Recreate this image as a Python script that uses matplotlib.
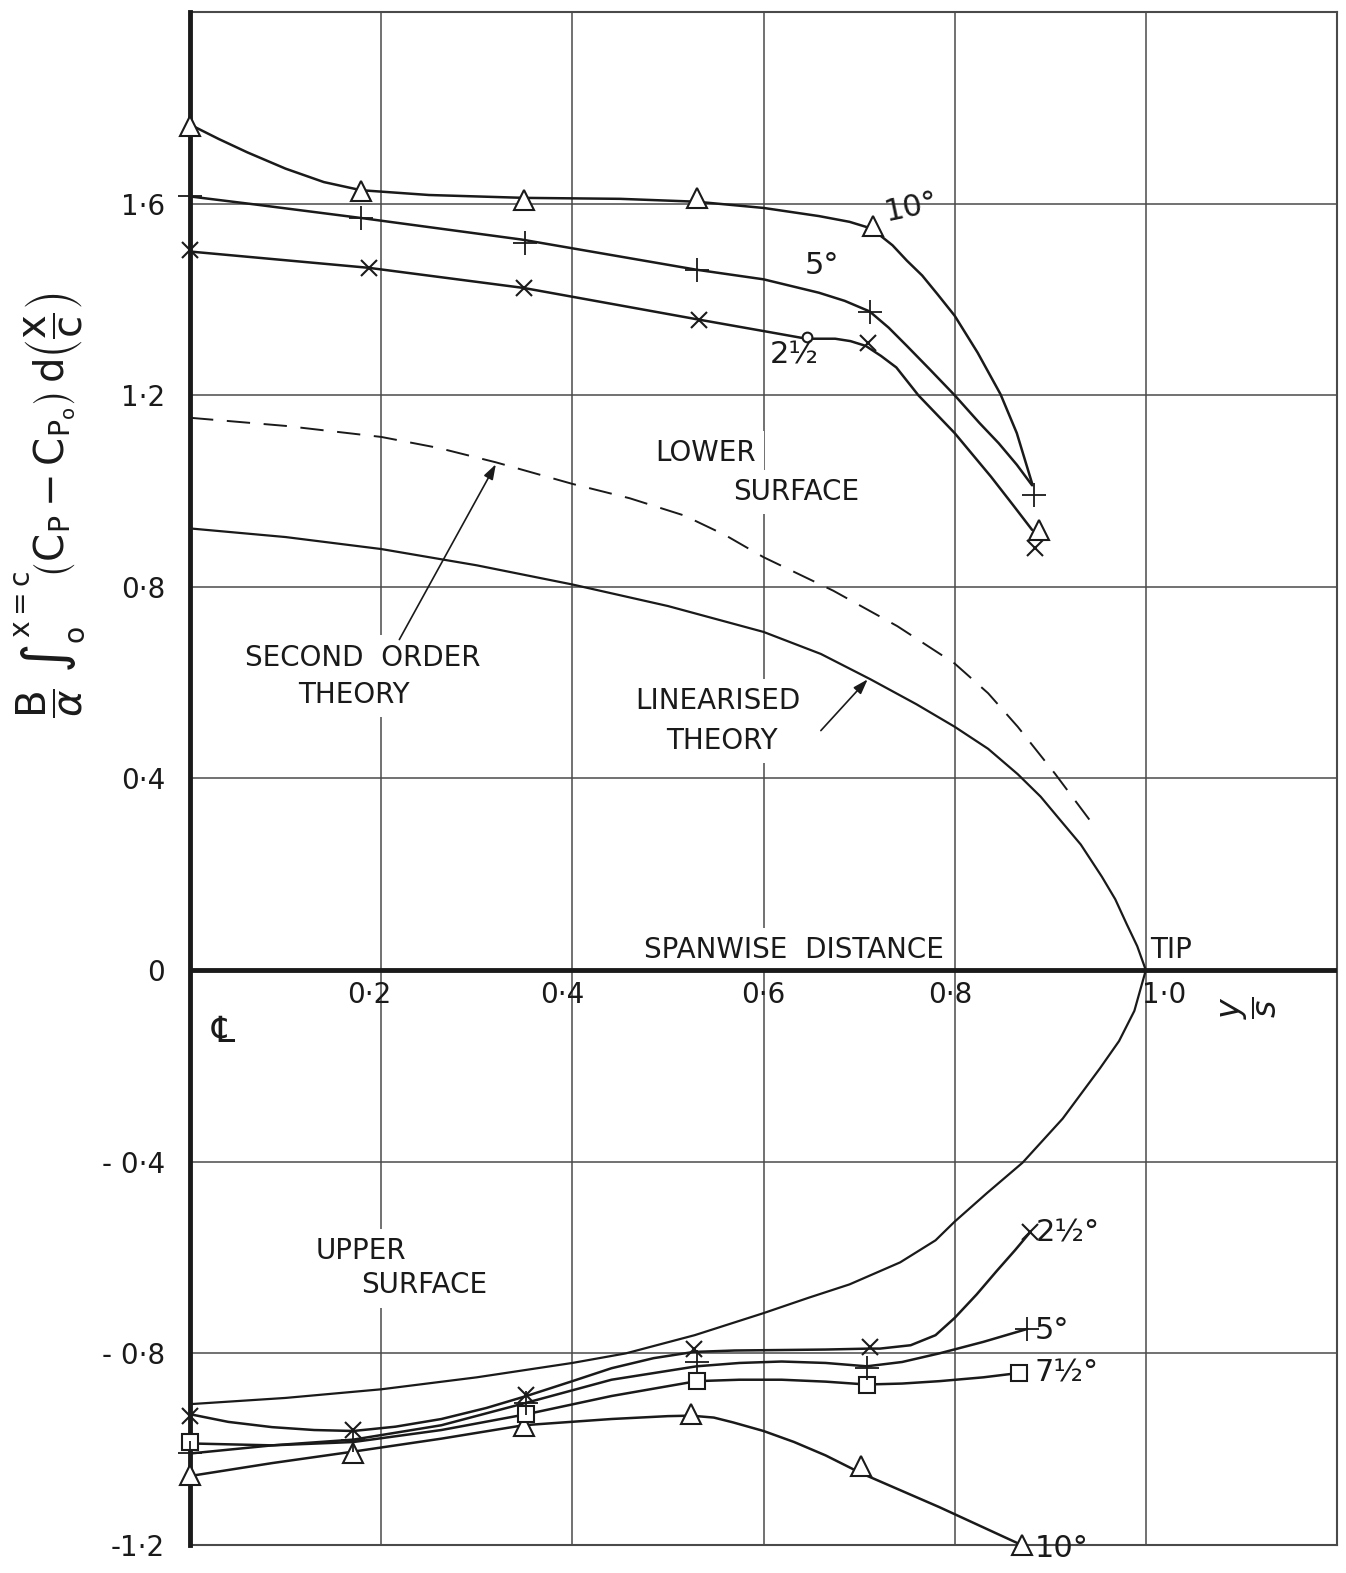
import matplotlib
matplotlib.use("Agg")
import matplotlib.pyplot as plt

plt.rcParams['font.family'] = ['DejaVu Sans', 'Noto Sans']
plt.rcParams['mathtext.fontset'] = 'dejavusans'

INK = '#1a1a1a'
GRID = '#4a4a4a'

# ---------------- data ----------------
# Lower surface, experimental (markers)
low10_x = [0.0, 0.179, 0.349, 0.530, 0.715, 0.888]
low10_y = [1.761, 1.626, 1.608, 1.612, 1.553, 0.919]
low5_x = [0.0, 0.179, 0.351, 0.530, 0.711, 0.883]
low5_y = [1.615, 1.570, 1.518, 1.462, 1.373, 0.992]
low25_x = [0.0, 0.187, 0.349, 0.532, 0.709, 0.884]
low25_y = [1.504, 1.466, 1.424, 1.358, 1.310, 0.881]

# Lower surface, faired curves
low10_cx = [0.0, 0.03, 0.06, 0.10, 0.14, 0.179, 0.25, 0.35, 0.45, 0.53, 0.60, 0.658, 0.690, 0.713,
            0.735, 0.750, 0.766, 0.782, 0.80, 0.824, 0.848, 0.865, 0.881]
low10_cy = [1.765, 1.735, 1.707, 1.673, 1.645, 1.628, 1.618, 1.612, 1.610, 1.604, 1.591, 1.574, 1.562, 1.548,
            1.513, 1.481, 1.450, 1.411, 1.366, 1.289, 1.202, 1.121, 1.016]
low5_cx = [0.0, 0.069, 0.179, 0.347, 0.53, 0.60, 0.658, 0.685, 0.711, 0.731, 0.750, 0.774, 0.80,
           0.826, 0.846, 0.865, 0.881]
low5_cy = [1.615, 1.598, 1.570, 1.525, 1.462, 1.442, 1.414, 1.397, 1.375, 1.341, 1.303, 1.254, 1.20,
           1.142, 1.10, 1.055, 1.012]
low25_cx = [0.0, 0.187, 0.349, 0.532, 0.60, 0.645, 0.675, 0.691, 0.707, 0.723, 0.739, 0.762, 0.80,
            0.838, 0.861, 0.881]
low25_cy = [1.500, 1.466, 1.424, 1.358, 1.334, 1.318, 1.318, 1.313, 1.303, 1.282, 1.258, 1.20, 1.121,
            1.03, 0.971, 0.919]

# Theories, lower surface
lin_low_x = [0.0, 0.1, 0.2, 0.3, 0.4, 0.5, 0.6, 0.66, 0.712, 0.76, 0.8, 0.835, 0.866, 0.89, 0.908,
             0.932, 0.954, 0.968, 0.98, 0.991, 1.0]
lin_low_y = [0.922, 0.904, 0.879, 0.845, 0.805, 0.760, 0.706, 0.660, 0.607, 0.555, 0.508, 0.462, 0.409,
             0.362, 0.319, 0.262, 0.195, 0.148, 0.096, 0.050, 0.0]
sec_x = [0.0, 0.1, 0.2, 0.26, 0.32, 0.4, 0.46, 0.517, 0.56, 0.6, 0.673, 0.74, 0.8, 0.835, 0.866, 0.905, 0.944]
sec_y = [1.153, 1.136, 1.113, 1.090, 1.060, 1.015, 0.985, 0.949, 0.908, 0.862, 0.792, 0.718, 0.640,
         0.578, 0.508, 0.410, 0.306]

# Theory, upper surface
lin_up_x = [0.0, 0.1, 0.2, 0.3, 0.4, 0.456, 0.528, 0.6, 0.647, 0.690, 0.743, 0.780, 0.8, 0.834, 0.871,
            0.913, 0.952, 0.972, 0.988, 1.0]
lin_up_y = [-0.906, -0.893, -0.875, -0.850, -0.820, -0.800, -0.762, -0.716, -0.684, -0.656, -0.610,
            -0.564, -0.525, -0.465, -0.402, -0.310, -0.205, -0.148, -0.085, 0.0]

# Upper surface, experimental (markers)
up25_x = [0.0, 0.171, 0.352, 0.527, 0.711, 0.879]
up25_y = [-0.930, -0.960, -0.887, -0.790, -0.787, -0.547]
up5_x = [0.0, 0.171, 0.352, 0.530, 0.708, 0.876]
up5_y = [-1.009, -0.980, -0.903, -0.817, -0.831, -0.749]
up75_x = [0.0, 0.352, 0.530, 0.708, 0.867]
up75_y = [-0.985, -0.927, -0.857, -0.865, -0.841]
up10_x = [0.0, 0.171, 0.349, 0.524, 0.702, 0.870]
up10_y = [-1.053, -1.009, -0.952, -0.927, -1.036, -1.200]

# Upper surface, faired curves
up25_cx = [0.0, 0.04, 0.086, 0.130, 0.171, 0.215, 0.263, 0.31, 0.352, 0.400, 0.441, 0.485, 0.527, 0.57,
           0.619, 0.665, 0.711, 0.722, 0.754, 0.780, 0.8, 0.823, 0.844, 0.863, 0.879]
up25_cy = [-0.927, -0.943, -0.954, -0.960, -0.962, -0.953, -0.937, -0.914, -0.889, -0.858, -0.831, -0.810,
           -0.797, -0.794, -0.793, -0.792, -0.790, -0.790, -0.783, -0.762, -0.726, -0.677, -0.628, -0.585, -0.547]
up5_cx = [0.0, 0.086, 0.171, 0.263, 0.352, 0.441, 0.530, 0.575, 0.619, 0.665, 0.708, 0.745, 0.784, 0.83, 0.876]
up5_cy = [-1.009, -0.992, -0.980, -0.950, -0.903, -0.855, -0.827, -0.820, -0.817, -0.820, -0.827, -0.818,
          -0.800, -0.776, -0.749]
up75_cx = [0.0, 0.086, 0.171, 0.263, 0.352, 0.441, 0.530, 0.575, 0.619, 0.665, 0.708, 0.745, 0.784, 0.83, 0.867]
up75_cy = [-0.988, -0.992, -0.985, -0.960, -0.927, -0.889, -0.858, -0.855, -0.855, -0.859, -0.865, -0.863,
           -0.858, -0.850, -0.841]
up10_cx = [0.0, 0.086, 0.171, 0.263, 0.349, 0.441, 0.500, 0.524, 0.548, 0.568, 0.600, 0.632, 0.665,
           0.702, 0.784, 0.870]
up10_cy = [-1.056, -1.029, -1.005, -0.978, -0.950, -0.937, -0.931, -0.930, -0.934, -0.944, -0.962, -0.985,
           -1.013, -1.050, -1.121, -1.200]

# Axis tick labels
ytick_vals = [1.6, 1.2, 0.8, 0.4, 0.0, -0.4, -0.8, -1.2]
ytick_labels = ['1·6', '1·2', '0·8', '0·4', '0', '- 0·4', '- 0·8', '-1·2']
xtick_pos = [0.188, 0.389, 0.600, 0.795, 1.019]
xtick_labels = ['0·2', '0·4', '0·6', '0·8', '1·0']

# ---------------- figure ----------------
W, H = 1346, 1573
fig = plt.figure(figsize=(W / 100, H / 100), dpi=100)
ax = fig.add_axes([190 / W, 1 - 1545 / H, 1147 / W, 1533 / H])
ax.set_xlim(0, 1.2)
ax.set_ylim(-1.2, 2.0)

# grid
for gx in [0.2, 0.4, 0.6, 0.8, 1.0]:
    ax.axvline(gx, color=GRID, lw=1.1, zorder=1)
for gy in [1.6, 1.2, 0.8, 0.4, -0.4, -0.8]:
    ax.axhline(gy, color=GRID, lw=1.1, zorder=1)
ax.axhline(0.0, color=INK, lw=3.5, zorder=3)

for s in ['top', 'right', 'bottom']:
    ax.spines[s].set_linewidth(1.5)
    ax.spines[s].set_color(GRID)
ax.spines['left'].set_linewidth(3.5)
ax.spines['left'].set_color(INK)
ax.spines['left'].set_zorder(3)

ax.set_xticks([])
ax.set_yticks(ytick_vals)
ax.set_yticklabels(ytick_labels, fontsize=20, color=INK)
ax.tick_params(axis='y', length=0, pad=18)

lw = 1.8
# faired curves
for cx, cy in [(low10_cx, low10_cy), (low5_cx, low5_cy), (low25_cx, low25_cy),
               (up25_cx, up25_cy), (up5_cx, up5_cy), (up75_cx, up75_cy), (up10_cx, up10_cy)]:
    ax.plot(cx, cy, color=INK, lw=lw, zorder=4, solid_capstyle='round', solid_joinstyle='round')

ax.plot(lin_low_x, lin_low_y, color=INK, lw=1.6, zorder=4, solid_joinstyle='round')
ax.plot(lin_up_x, lin_up_y, color=INK, lw=1.6, zorder=4, solid_joinstyle='round')
ax.plot(sec_x, sec_y, color=INK, lw=1.4, dashes=(12, 7), zorder=4)

# markers
mk = dict(color=INK, ls='none', zorder=5, clip_on=False)
ax.plot(low10_x, low10_y, marker='^', ms=15, mfc='white', mec=INK, mew=1.5, **mk)
ax.plot(low5_x, low5_y, marker='+', ms=17, mew=1.3, **mk)
ax.plot(low25_x, low25_y, marker='x', ms=11, mew=1.5, **mk)
ax.plot(up10_x, up10_y, marker='^', ms=15, mfc='white', mec=INK, mew=1.5, **mk)
ax.plot(up75_x, up75_y, marker='s', ms=11, mfc='white', mec=INK, mew=1.5, **mk)
ax.plot(up5_x, up5_y, marker='+', ms=17, mew=1.3, **mk)
ax.plot(up25_x, up25_y, marker='x', ms=11, mew=1.5, **mk)
# small circle (degree sign) on the lower 2 1/2 deg curve
ax.plot([0.646], [1.322], marker='o', ms=7, mfc='white', mec=INK, mew=1.5, ls='none', zorder=6)

# ---------------- texts ----------------
txt = dict(color=INK, fontsize=20, ha='center', va='center')
box = dict(facecolor='white', edgecolor='none', pad=6)

for xv, lab in zip(xtick_pos, xtick_labels):
    ax.text(xv, -0.051, lab, zorder=7, **txt)

ax.text(0.632, 0.042, 'SPANWISE  DISTANCE', bbox=box, zorder=2, **txt)
ax.text(1.004, 0.042, 'TIP', color=INK, fontsize=20, ha='left', va='center', zorder=7)
ax.text(1.108, -0.078, r'$\dfrac{y}{s}$', color=INK, fontsize=24, ha='center', va='center', rotation=90)
ax.text(0.035, -0.129, '℄', color=INK, fontsize=26, ha='center', va='center')

ax.text(0.539, 1.079, 'LOWER', bbox=box, zorder=2, **txt)
ax.text(0.634, 0.998, 'SURFACE', bbox=box, zorder=2, **txt)
ax.text(0.181, 0.652, 'SECOND  ORDER', bbox=box, zorder=2, **txt)
ax.text(0.171, 0.574, 'THEORY', bbox=box, zorder=2, **txt)
ax.text(0.552, 0.562, 'LINEARISED', bbox=box, zorder=2, **txt)
ax.text(0.556, 0.479, 'THEORY', bbox=box, zorder=2, **txt)
ax.text(0.179, -0.587, 'UPPER', bbox=box, zorder=2, **txt)
ax.text(0.245, -0.658, 'SURFACE', bbox=box, zorder=2, **txt)

arr = dict(arrowstyle='-|>,head_length=0.9,head_width=0.3', color=INK, lw=1.2, shrinkA=0, shrinkB=0)
ax.annotate('', xy=(0.320, 1.056), xytext=(0.219, 0.690), arrowprops=arr, zorder=6)
ax.annotate('', xy=(0.709, 0.607), xytext=(0.660, 0.500), arrowprops=arr, zorder=6)

deg = dict(color=INK, fontsize=22, va='center', zorder=7)
ax.text(0.755, 1.593, '10°', ha='center', rotation=12, **deg)
ax.text(0.661, 1.471, '5°', ha='center', **deg)
ax.text(0.632, 1.283, '2½', ha='center', **deg)
ax.text(0.885, -0.548, '2½°', ha='left', **deg)
ax.text(0.884, -0.752, '5°', ha='left', **deg)
ax.text(0.884, -0.841, '7½°', ha='left', **deg)
ax.text(0.884, -1.207, '10°', ha='left', **deg)

fig.text(50 / W, 1 - 505 / H,
         r'$\dfrac{\mathrm{B}}{\alpha}\ \int_{\mathrm{o}}^{\mathrm{x=c}}\!\left(\mathrm{C_P - C_{P_o}}\right)'
         r'\,\mathrm{d}\left(\dfrac{\mathrm{x}}{\mathrm{c}}\right)$',
         rotation=90, ha='center', va='center', fontsize=29, color=INK)

fig.savefig('out.png', dpi=100, facecolor='white')
